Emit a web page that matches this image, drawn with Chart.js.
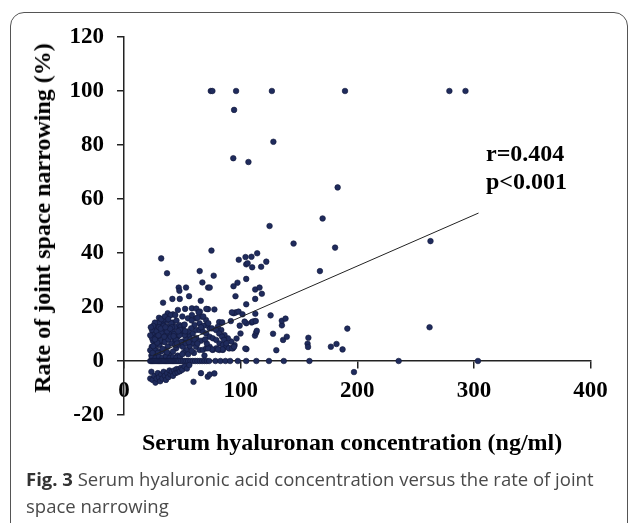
<!DOCTYPE html>
<html><head><meta charset="utf-8">
<script src="https://cdn.jsdelivr.net/npm/chart.js@4.4.0/dist/chart.umd.min.js"></script>
<style>
html,body{margin:0;padding:0;background:#fff;width:629px;height:523px;overflow:hidden;}
#wrap{position:relative;width:629px;height:523px;}
#frame{position:absolute;left:10px;top:12px;width:618px;height:600px;border:1.5px solid #555;border-radius:14px;box-sizing:border-box;}
canvas{position:absolute;left:0;top:0;}
.t{position:absolute;font-family:"Liberation Serif","Times New Roman",serif;font-weight:bold;font-size:24px;line-height:24px;color:#000;white-space:nowrap;}
#cap{position:absolute;left:26px;top:466px;font-family:"Open Sans",sans-serif;font-size:18.5px;line-height:26.5px;color:#4a4a4a;white-space:nowrap;}
#cap b{color:#333;}
</style></head>
<body><div id="wrap">
<div id="frame"></div>
<canvas id="c" width="629" height="523"></canvas>
<div class="t" style="left:42px;top:217.5px;transform:translate(-50%,-50%) rotate(-90deg);">Rate of joint space narrowing (%)</div>
<div class="t" style="left:142px;top:430px;">Serum hyaluronan concentration (ng/ml)</div>
<div class="t" style="left:486px;top:141px;">r=0.404</div>
<div class="t" style="left:486px;top:169px;">p&lt;0.001</div>
<div id="cap"><b>Fig. 3</b> Serum hyaluronic acid concentration versus the rate of joint<br>space narrowing</div>
</div>
<script>
// ---- data (x: serum hyaluronan ng/ml, y: rate of JSN %) ----
const xTickValues = [0, 100, 200, 300, 400];
const yTickValues = [-20, 0, 20, 40, 60, 80, 100, 120];

const pointsAbove20 = [
  [74.4,100],[75.8,100],[96.1,100],[126.8,100],[189.5,100],[279.0,100],[292.8,100],
  [94.4,93.0],[128.1,81.2],[93.7,75.1],[106.7,73.7],[183.2,64.3],[170.3,52.8],[124.8,50.0],
  [262.8,44.4],[145.4,43.5],[181.0,42.0],[75.0,40.9],[31.9,38.0],[114.2,39.9],[109.3,38.6],
  [104.2,38.5],[98.4,37.5],[122.0,36.8],[117.6,34.9],[109.9,34.7],[104.8,35.8],[106.0,36.2],
  [36.9,32.5],[64.9,33.3],[76.9,31.6],[168.0,33.3],[104.8,30.4],[67.2,29.1],[97.3,29.0],
  [93.9,27.7],[72.1,27.2],[73.5,27.2],[46.9,27.2],[47.5,26.0],[53.2,27.2],[112.5,26.5],
  [116.2,27.2],[118.2,24.9],[95.6,24.0],[112.5,23.0],[41.5,23.0],[47.8,23.0],[55.8,24.0],
  [65.8,22.3],[33.5,21.6],[104.8,21.0]
];

const pointsSparse = [
  [81.6,14.4],[84.2,14.3],[91.6,14.8],[94.0,17.7],[95.8,18.0],[92.5,18.0],[98.2,18.3],
  [101.6,17.3],[99.9,10.2],[96.5,8.3],[99.2,13.1],[105.0,4.4],[104.0,4.6],[112.3,9.4],
  [113.3,10.5],[113.9,11.2],[109.5,14.3],[111.9,14.7],[110.4,14.6],[113.0,14.8],[112.6,17.5],
  [125.7,16.9],[127.8,10.1],[130.6,4.0],[135.4,13.2],[135.3,14.9],[138.5,15.7],[136.4,7.8],
  [139.6,9.0],[158.1,8.6],[157.4,6.4],[157.8,5.2],[177.4,5.3],[182.2,6.3],[187.4,4.3],
  [191.5,12.0],[262.0,12.5],[104.9,14.0],[103.4,14.6],
  [52.4,19.3],[58.2,19.5],[62.0,19.4],[72.0,19.2],[77.5,19.1],[70.6,19.3],[46.2,18.9],
  [42.0,17.3],[39.3,17.0]
];

const pointsCluster = [
  [41.8,14.2],[36.1,14.8],[33.2,13.6],[29.8,14.2],[27.5,12.3],[26.1,10.6],[25.5,9.0],
  [26.1,7.2],[24.6,5.3],[27.5,4.1],[30.4,5.9],[33.2,7.2],[36.1,9.0],[39.0,10.2],[41.8,11.5],
  [44.7,12.7],[47.6,13.3],[50.4,12.1],[49.0,10.2],[46.1,9.0],[43.3,7.8],[40.4,6.5],[37.5,5.3],
  [34.7,4.1],[31.8,3.5],[44.7,4.7],[47.6,5.9],[50.4,7.2],[53.3,8.4],[56.2,9.6],[59.0,10.2],
  [61.9,11.5],[64.8,11.5],[67.6,10.9],[70.5,10.2],[73.4,9.0],[76.2,8.4],[79.1,7.8],[81.9,6.5],
  [84.8,5.9],[87.7,5.3],[90.5,4.7],[93.4,4.7],[94.8,5.9],[92.0,7.2],[89.1,8.4],[86.2,9.6],
  [83.4,11.5],[80.5,12.7],[73.4,12.1],[70.5,13.3],[64.8,14.0],[60.5,13.3],[57.6,12.1],
  [54.7,10.9],[51.9,9.6],[59.0,6.5],[61.9,5.3],[64.8,4.1],[67.6,4.1],[70.5,4.7],[73.4,5.3],
  [76.2,4.1],[79.1,4.7],[81.9,4.1],[84.8,4.1],[56.2,5.3],[53.3,4.1],[50.4,5.3],[44.7,7.8],
  [47.6,9.6],[28.9,8.4],[31.8,9.6],[34.7,10.9],[37.5,12.7],[40.4,14.0],
  [24.8,10.2],[26.5,14.2],[24.8,7.5],[23.8,5.3],[26.2,4.1],[29.3,11.0],[27.9,9.0],[34.1,15.4],
  [37.5,17.7],[40.0,17.0],[48.6,12.7],[51.3,13.3],[54.8,15.8],[58.2,17.0],[61.7,15.8],
  [65.1,18.3],[66.8,16.4],[70.3,15.2],[72.3,14.0],[75.4,12.1],[78.9,11.5],[81.6,10.2],
  [84.1,9.0],[85.8,7.8],[87.8,6.5],[89.9,4.7],[92.7,4.7],[94.4,5.3],[84.4,4.3],[80.6,4.3],
  [75.4,4.3],[72.0,4.7],
  [23.5,2.0],[24.0,8.5],[24.0,11.5],[25.0,13.0],[26.0,2.5],[27.0,6.0],[28.0,11.0],[29.0,3.0],
  [30.0,12.5],[31.0,7.5],[32.0,10.5],[33.0,4.5],[34.0,13.0],[35.0,7.0],[36.0,2.0],[37.0,11.0],
  [38.0,8.0],[39.0,2.5],[40.0,9.0],[41.0,12.5],[42.0,3.5],[43.0,10.0],[44.0,6.0],[45.0,15.0],
  [46.0,2.0],[48.0,11.5],[49.0,7.0],[51.0,3.0],[52.0,13.5],[53.0,6.5],[55.0,2.5],[57.0,8.0],
  [58.0,15.0],[60.0,3.0],[62.0,8.5],[63.0,16.0],[66.0,7.5],[68.0,13.0],[69.0,2.0],[71.0,6.5],
  [24.0,1.2],[27.0,1.0],[30.0,1.5],[33.0,1.2],[36.0,1.5],[39.0,1.0],[42.0,1.4],[45.0,1.2],
  [48.0,1.6],[22.5,4.0],[22.5,9.5],[23.0,12.5],[25.0,5.5],[30.0,16.0],[32.0,15.5],[35.0,16.5],
  [38.0,15.5],[44.0,17.0],[50.0,16.5],[64.0,18.0],[68.0,16.5],
  [28.5,6.8],[31.5,12.0],[34.5,9.0],[37.0,3.2],[39.5,12.0],[42.5,9.2],[45.5,6.5],[46.5,11.0],
  [50.0,2.5],[52.5,11.0],[55.5,7.0],[58.0,3.8],[60.5,8.0],[63.0,6.5],[66.0,12.5],[69.5,8.0],
  [24.5,3.0],[26.5,8.0],[29.5,9.5],[35.5,12.5]
];

const zeroX = [
  22.5,23.5,24.5,25.5,26.5,27.5,28.5,29.5,30.5,31.5,32.5,33.5,34.5,35.5,36.5,37.5,38.5,39.5,
  40.5,41.5,42.5,43.5,44.5,45.5,46.5,47.5,49.0,50.5,52.0,53.5,55.0,57.0,59.0,61.0,63.0,65.0,
  67.0,69.0,71.0,73.0,78.4,82.7,87.0,91.0,97.6,104.8,113.5,124.3,137.0,159.0,235.5,303.5
];

const pointsNegative = [
  [22.5,-6.5],[23.5,-4.0],[24.5,-7.0],[26.0,-5.5],[27.0,-8.0],[28.0,-6.5],[29.0,-4.5],[30.0,-6.0],
  [31.0,-7.5],[32.0,-5.0],[33.0,-6.5],[34.0,-4.0],[35.0,-5.5],[36.0,-7.0],[37.0,-4.5],[38.0,-6.0],
  [39.0,-3.5],[40.0,-5.0],[41.0,-4.0],[42.0,-5.5],[43.0,-3.5],[44.0,-4.5],[45.0,-3.0],[46.0,-4.2],
  [47.0,-3.0],[48.0,-3.8],[49.0,-2.5],[50.0,-3.2],[52.0,-2.0],[54.0,-2.8],[56.0,-1.5],[59.6,-7.7],
  [66.0,-4.5],[71.8,-5.8],[73.5,-5.0],[77.5,-4.6],[197.2,-4.1]
];

const trendX = [25, 304];
const trendY = [2.1, 54.8];

// ---- build datasets ----
const toXY = p => ({x: p[0], y: p[1]});
const scatterData = []
  .concat(pointsAbove20.map(toXY))
  .concat(pointsSparse.map(toXY))
  .concat(pointsCluster.map(toXY))
  .concat(zeroX.map(x => ({x: x, y: 0})))
  .concat(pointsNegative.map(toXY));
const trendData = trendX.map((x, i) => ({x: x, y: trendY[i]}));

const tickFont = {family: 'Liberation Serif', size: 23, weight: 'bold'};
const axisGrid = {drawOnChartArea: false, drawTicks: true, tickLength: 7, color: '#222', lineWidth: 1.5};
const axisBorder = {display: true, color: '#222', width: 1.5};

new Chart(document.getElementById('c'), {
  type: 'scatter',
  data: {
    datasets: [
      {data: trendData, showLine: true, borderColor: '#222', borderWidth: 1, pointRadius: 0, fill: false, order: 0},
      {data: scatterData, backgroundColor: '#1f2b5c', borderColor: '#10173a', borderWidth: 0.6, pointRadius: 2.8, order: 1}
    ]
  },
  options: {
    responsive: false,
    animation: false,
    devicePixelRatio: 1,
    layout: {padding: {top: 37, bottom: 108, left: 0, right: 38.5}},
    plugins: {legend: {display: false}, tooltip: {enabled: false}},
    scales: {
      x: {
        type: 'linear', position: {y: 0}, min: 0, max: 400,
        afterFit(s) { s.height = 0; },
        afterBuildTicks(s) { s.ticks = xTickValues.map(v => ({value: v})); },
        ticks: {font: tickFont, color: '#000', padding: 9, maxRotation: 0, autoSkip: false},
        grid: axisGrid, border: axisBorder
      },
      y: {
        type: 'linear', position: 'left', min: -20, max: 120,
        afterFit(s) { s.width = 124; },
        afterBuildTicks(s) { s.ticks = yTickValues.map(v => ({value: v})); },
        ticks: {font: tickFont, color: '#000', padding: 13, autoSkip: false},
        grid: axisGrid, border: axisBorder
      }
    }
  }
});
</script>
</body></html>
